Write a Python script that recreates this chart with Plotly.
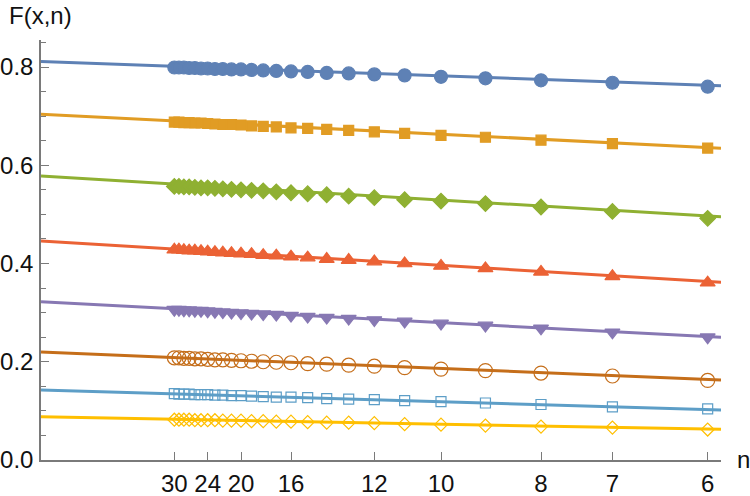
import plotly.graph_objects as go

n_vals = list(range(30, 5, -1))
tick_n = [30, 24, 20, 16, 12, 10, 8, 7, 6]

# fitted lines: value at 1/n = 0 and at 1/n = 0.17
line_x = [0.0, 0.17]
line_start = [0.811, 0.704, 0.578, 0.4458, 0.3223, 0.2198, 0.1425, 0.0882]
line_end = [0.762, 0.6345, 0.495, 0.3617, 0.2497, 0.1628, 0.1018, 0.0624]

s1 = [.799, .799, .799, .798, .798, .797, .797, .796, .796, .795, .795, .794, .793, .792, .791, .790, .788, .787, .785, .783, .780, .777, .773, .768, .760]
s2 = [.688, .688, .687, .687, .686, .686, .685, .684, .683, .683, .682, .680, .679, .678, .676, .675, .673, .671, .668, .665, .661, .657, .651, .644, .635]
s3 = [.557, .557, .556, .556, .555, .554, .554, .553, .552, .551, .550, .549, .548, .546, .544, .542, .540, .537, .534, .530, .527, .522, .515, .506, .492]
s4 = [.428, .428, .427, .426, .426, .425, .424, .423, .422, .421, .420, .419, .417, .416, .414, .412, .409, .407, .404, .400, .395, .390, .383, .374, .361]
s5 = [.306, .306, .305, .305, .304, .304, .303, .302, .301, .300, .299, .298, .297, .296, .294, .292, .290, .288, .285, .282, .278, .274, .268, .260, .250]
s6 = [.208, .208, .207, .207, .206, .206, .205, .204, .204, .203, .202, .201, .200, .199, .198, .196, .195, .193, .191, .188, .185, .182, .177, .171, .162]
s7 = [.135, .134, .134, .134, .133, .133, .133, .132, .132, .131, .131, .130, .129, .128, .128, .127, .125, .124, .123, .121, .119, .116, .113, .108, .104]
s8 = [.082, .082, .082, .082, .081, .081, .081, .081, .080, .080, .080, .079, .079, .078, .078, .077, .076, .076, .075, .073, .072, .070, .068, .066, .062]
series = [s1, s2, s3, s4, s5, s6, s7, s8]

colors = ["#5E81B5", "#E19C24", "#8FB032", "#EB6235", "#8778B3", "#C56E1A", "#5D9EC7", "#FFBF00"]
symbols = ["circle", "square", "diamond", "triangle-up", "triangle-down", "circle-open", "square-open", "diamond-open"]
sizes = [13, 10, 12, 13, 13, 14, 10, 10]

fig = go.Figure()
xs = [1.0 / n for n in n_vals]
for i in range(8):
    fig.add_trace(go.Scatter(x=line_x, y=[line_start[i], line_end[i]], mode="lines",
                             line=dict(color=colors[i], width=3), hoverinfo="skip",
                             cliponaxis=False))
for i in range(8):
    fig.add_trace(go.Scatter(x=xs, y=series[i], mode="markers",
                             marker=dict(symbol=symbols[i], size=sizes[i], color=colors[i],
                                         line=dict(width=1.2, color=colors[i])),
                             cliponaxis=False))

axis_col = "#7a7a7a"
font = dict(family="Liberation Sans, Arial, sans-serif", size=24, color="#111")
L, R, T, B = 41, 29, 40, 36
fig.update_layout(
    width=750, height=496,
    margin=dict(l=L, r=R, t=T, b=B, autoexpand=False),
    plot_bgcolor="white", paper_bgcolor="white",
    showlegend=False,
    font=font,
    xaxis=dict(range=[0, 0.17], tickvals=[1.0 / n for n in tick_n], ticktext=[str(n) for n in tick_n],
               showgrid=False, zeroline=False, showline=True, linecolor=axis_col, linewidth=1.5,
               ticks="inside", ticklen=8, tickcolor=axis_col, tickwidth=1.2, tickfont=font,
               ticklabelstandoff=1, automargin=False),
    yaxis=dict(range=[0, 0.855], tickvals=[0, 0.2, 0.4, 0.6, 0.8], tickformat=".1f",
               showgrid=False, zeroline=False, showline=True, linecolor=axis_col, linewidth=1.5,
               ticks="inside", ticklen=8, tickcolor=axis_col, tickwidth=1.2, tickfont=font,
               ticklabelstandoff=1, automargin=False,
               minor=dict(dtick=0.05, ticks="inside", ticklen=5, tickcolor=axis_col, tickwidth=1.2)),
)
pw, ph = 750 - L - R, 496 - T - B
def px_to_paper(px, py):
    return (px - L) / pw, 1 - (py - T) / ph
ax, ay = px_to_paper(7, 16)
nx, ny = px_to_paper(743, 459)
fig.add_annotation(text="F(x,n)", x=ax, y=ay, xref="paper", yref="paper", showarrow=False,
                   font=font, xanchor="left", yanchor="middle")
fig.add_annotation(text="n", x=nx, y=ny, xref="paper", yref="paper", showarrow=False,
                   font=font, xanchor="center", yanchor="middle")
fig.write_html("out.html")
